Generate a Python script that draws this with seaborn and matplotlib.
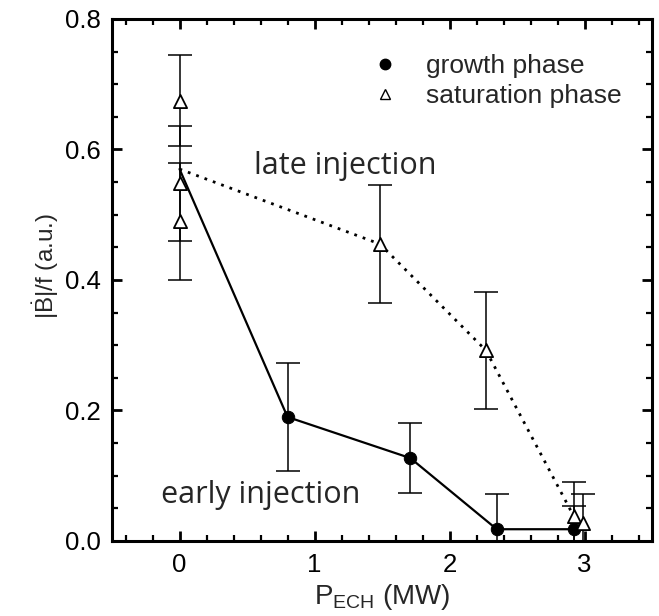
import matplotlib
matplotlib.use("Agg")
import matplotlib.pyplot as plt
import seaborn as sns
import pandas as pd
from matplotlib.ticker import MultipleLocator
from matplotlib.lines import Line2D

# ---- data ----
growth_x = [0.80, 1.71, 2.35, 2.92]
growth_y = [0.190, 0.127, 0.018, 0.018]
growth_err = [0.082, 0.054, 0.054, 0.036]
growth_line_x = [0.0, 0.80, 1.71, 2.35, 2.92]
growth_line_y = [0.570, 0.190, 0.127, 0.018, 0.018]

sat_x = [0.0, 0.0, 0.0, 1.485, 2.27, 2.92, 2.99]
sat_y = [0.675, 0.548, 0.490, 0.455, 0.292, 0.038, 0.028]
sat_err = [0.070, 0.088, 0.090, 0.090, 0.090, 0.053, 0.044]
sat_line_x = [0.0, 1.485, 2.27, 2.92]
sat_line_y = [0.570, 0.455, 0.292, 0.038]

x_ticks = [0, 1, 2, 3]
y_ticks = [0.0, 0.2, 0.4, 0.6, 0.8]
legend_labels = ["growth phase", "saturation phase"]

sns.set_style("ticks")
plt.rcParams["font.family"] = ["Liberation Sans", "DejaVu Sans"]
plt.rcParams["mathtext.fontset"] = "custom"
plt.rcParams["mathtext.rm"] = "Liberation Sans"
plt.rcParams["mathtext.it"] = "Liberation Sans"

fig = plt.figure(figsize=(6.59, 6.16), dpi=100)
ax = fig.add_axes([0.170, 0.1218, 0.8194, 0.8474])

g_line = pd.DataFrame({"x": growth_line_x, "y": growth_line_y})
s_line = pd.DataFrame({"x": sat_line_x, "y": sat_line_y})
sns.lineplot(data=g_line, x="x", y="y", ax=ax, color="black", lw=1.6,
             sort=False, estimator=None, zorder=2)
sns.lineplot(data=s_line, x="x", y="y", ax=ax, color="black", lw=2.0,
             sort=False, estimator=None, zorder=2, linestyle=(0, (1, 2.2)))

ax.errorbar(growth_x, growth_y, yerr=growth_err, fmt="none", ecolor="black",
            elinewidth=1.1, capsize=8.5, capthick=1.1, zorder=3)
ax.errorbar(sat_x, sat_y, yerr=sat_err, fmt="none", ecolor="black",
            elinewidth=1.1, capsize=8.5, capthick=1.1, zorder=3)

g_pts = pd.DataFrame({"x": growth_x, "y": growth_y})
s_pts = pd.DataFrame({"x": sat_x, "y": sat_y})
sns.scatterplot(data=g_pts, x="x", y="y", ax=ax, marker="o", s=80,
                color="black", edgecolor="black", zorder=4)
sns.scatterplot(data=s_pts, x="x", y="y", ax=ax, marker="^", s=90,
                facecolor="white", edgecolor="black", linewidth=1.3, zorder=4)

ax.set_xlim(-0.5, 3.5)
ax.set_ylim(0.0, 0.8)
ax.set_xticks(x_ticks)
ax.set_xticklabels([str(v) for v in x_ticks])
ax.set_yticks(y_ticks)
ax.set_yticklabels([f"{v:.1f}" for v in y_ticks])
ax.xaxis.set_minor_locator(MultipleLocator(0.2))
ax.yaxis.set_minor_locator(MultipleLocator(0.05))

for s in ax.spines.values():
    s.set_visible(True)
    s.set_linewidth(2.2)
    s.set_color("black")
ax.tick_params(which="both", direction="in", top=True, right=True,
               colors="black")
ax.tick_params(which="major", length=7, width=2.0, labelsize=18.5)
ax.tick_params(which="minor", length=4, width=1.6)
ax.tick_params(axis="x", which="major", pad=9)
ax.tick_params(axis="y", which="major", pad=8)

ax.set_xlabel(r"P$_{\mathrm{ECH}}$ (MW)", fontsize=20, labelpad=3)
ax.set_ylabel(r"$|\dot{\mathrm{B}}|\mathrm{/f}$ (a.u.)", fontsize=17.5)
ax.yaxis.set_label_coords(-0.095, 0.527)

ax.text(0.55, 0.5625, "late injection", family="Open Sans", fontsize=22,
        ha="left", va="baseline")
ax.text(-0.14, 0.058, "early injection", family="Open Sans", fontsize=22,
        ha="left", va="baseline")

handles = [
    Line2D([], [], marker="o", linestyle="none", color="black", markersize=7.5),
    Line2D([], [], marker="^", linestyle="none", markerfacecolor="white",
           markeredgecolor="black", markeredgewidth=1.0, markersize=7),
]
ax.legend(handles, legend_labels, loc="upper left",
          bbox_to_anchor=(0.481, 0.932), frameon=False, fontsize=19,
          handlelength=1.0, handletextpad=1.05, borderpad=0,
          borderaxespad=0, labelspacing=0.2)

fig.savefig("out.png", dpi=100)
